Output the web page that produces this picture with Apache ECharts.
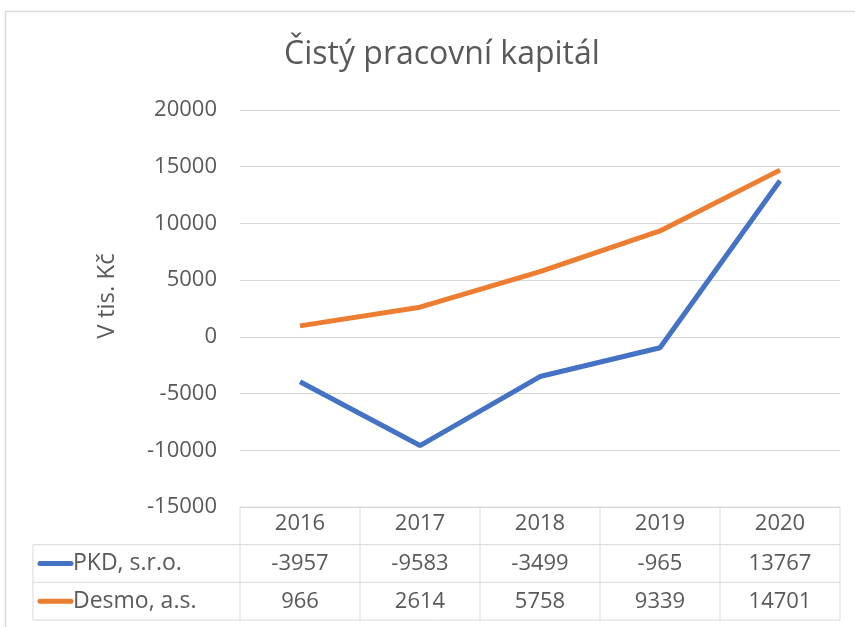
<!DOCTYPE html>
<html>
<head>
<meta charset="utf-8">
<script src="https://cdn.jsdelivr.net/npm/echarts@6/dist/echarts.min.js"></script>
<style>
  html, body { margin: 0; padding: 0; background: #fff; }
  #chart { width: 855px; height: 627px; }
</style>
</head>
<body>
<div id="chart"></div>
<script>
// data
var years = ['2016', '2017', '2018', '2019', '2020'];
var pkd = [-3957, -9583, -3499, -965, 13767];
var desmo = [966, 2614, 5758, 9339, 14701];
var seriesNames = ['PKD, s.r.o.', 'Desmo, a.s.'];
var colors = ['#4472C4', '#ED7D31'];

var FONT = "'Open Sans', sans-serif";
var TXT = '#595959';
var LINE = '#d9d9d9';

var chart = echarts.init(document.getElementById('chart'));

var option = {
    animation: false,
    backgroundColor: '#fff',
    title: {
        text: 'Čistý pracovní kapitál',
        left: 437, top: 34, textAlign: 'center',
        textStyle: { fontFamily: FONT, fontSize: 32, fontWeight: 'normal', color: TXT }
    },
    grid: { left: 240, right: 15, top: 110, bottom: 120 },
    xAxis: {
        type: 'category',
        data: years,
        boundaryGap: true,
        axisLine: { show: false },
        axisTick: { show: false },
        axisLabel: { margin: 6, fontFamily: FONT, fontSize: 22, color: TXT }
    },
    yAxis: {
        type: 'value',
        min: -15000, max: 20000, interval: 5000,
        axisLine: { show: false },
        axisTick: { show: false },
        axisLabel: { margin: 23, fontFamily: FONT, fontSize: 22, color: TXT,
                     formatter: function (v) { return String(v); } },
        splitLine: { lineStyle: { color: LINE, width: 1 } }
    },
    series: [
        { name: seriesNames[0], type: 'line', data: pkd, symbol: 'none',
          lineStyle: { color: colors[0], width: 5 } },
        { name: seriesNames[1], type: 'line', data: desmo, symbol: 'none',
          lineStyle: { color: colors[1], width: 5 } }
    ]
};
chart.setOption(option);

// data table below the plot, laid out from the category axis
function buildTable() {
    var rows = [pkd, desmo];
    var xs = years.map(function (y) { return chart.convertToPixel({ xAxisIndex: 0 }, y); });
    var step = xs[1] - xs[0];
    var x0 = xs[0] - step / 2;
    var x1 = xs[xs.length - 1] + step / 2;
    var yTop = chart.convertToPixel({ yAxisIndex: 0 }, -15000);
    var rowH = 37.7;
    var left = 33;
    var els = [];
    function line(ax, ay, bx, by) {
        els.push({ type: 'line', shape: { x1: ax, y1: ay, x2: bx, y2: by },
                   style: { stroke: LINE, lineWidth: 1 } });
    }
    // outer chart frame
    els.push({ type: 'rect', shape: { x: 5.5, y: 11.5, width: 880, height: 700 },
               style: { fill: null, stroke: LINE, lineWidth: 1.5 } });
    // axis title
    els.push({ type: 'text', x: 107, y: 296, rotation: Math.PI / 2,
               style: { text: 'V tis. Kč', fill: TXT, font: '24px ' + FONT,
                        textAlign: 'center', textVerticalAlign: 'middle' } });
    // horizontal lines
    line(x0, yTop, x1, yTop);
    for (var r = 1; r <= 3; r++) line(left, yTop + rowH * r, x1, yTop + rowH * r);
    // vertical lines
    for (var c = 0; c <= years.length; c++) line(x0 + step * c, yTop, x0 + step * c, yTop + rowH * 3);
    line(left, yTop + rowH, left, yTop + rowH * 3);
    // rows
    rows.forEach(function (vals, i) {
        var cy = yTop + rowH * (i + 1.5);
        els.push({ type: 'line', shape: { x1: 40, y1: cy, x2: 71, y2: cy },
                   style: { stroke: colors[i], lineWidth: 5, lineCap: 'round' } });
        els.push({ type: 'text', x: 73, y: cy,
                   style: { text: seriesNames[i], fill: TXT, font: '23px ' + FONT,
                            textAlign: 'left', textVerticalAlign: 'middle' } });
        vals.forEach(function (v, j) {
            els.push({ type: 'text', x: xs[j], y: cy,
                       style: { text: String(v), fill: TXT, font: '22px ' + FONT,
                                textAlign: 'center', textVerticalAlign: 'middle' } });
        });
    });
    chart.setOption({ graphic: { elements: els } });
}
buildTable();
</script>
</body>
</html>
